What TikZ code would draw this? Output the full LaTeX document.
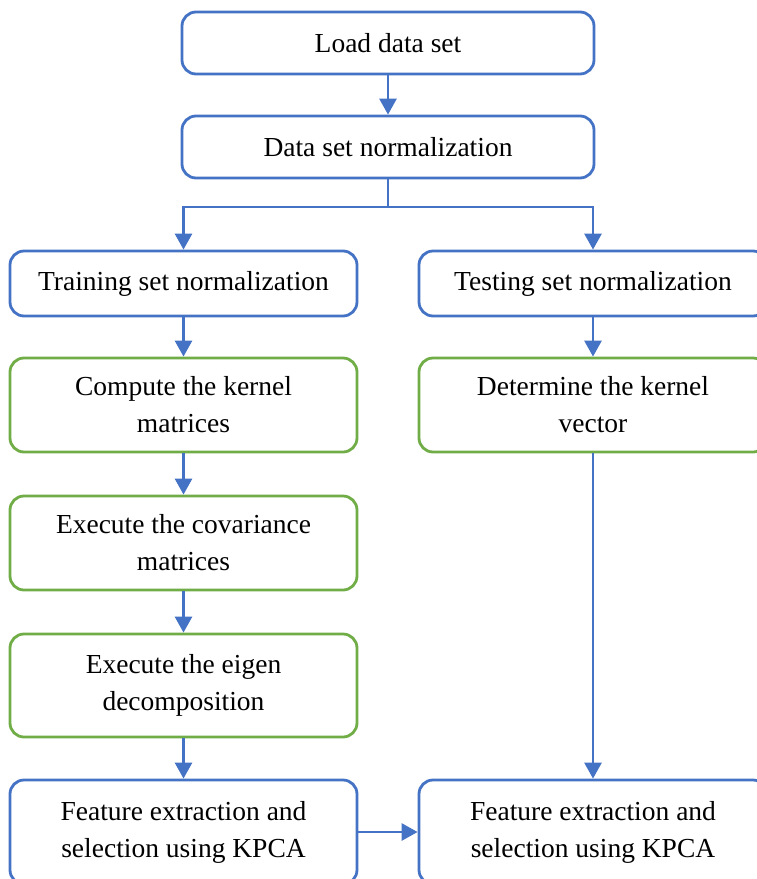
\documentclass[tikz,border=0pt]{standalone}
\usepackage{fontspec}
\setmainfont{Liberation Serif}
\usetikzlibrary{arrows.meta}
\definecolor{boxblue}{HTML}{4472C4}
\definecolor{boxgreen}{HTML}{70AD47}
\begin{document}
\begin{tikzpicture}[x=1pt,y=-1pt,
  base/.style={rectangle,rounded corners=14pt,line width=2.8pt,fill=white,
    align=center,inner sep=0pt,font=\fontsize{27.5}{37}\selectfont,
    execute at begin node={\vspace*{5pt}}},
  bluebox/.style={base,draw=boxblue},
  greenbox/.style={base,draw=boxgreen},
  arr/.style={draw=boxblue,line width=2.8pt,-{Triangle[length=16pt,width=17pt]}},
  ln/.style={draw=boxblue,line width=2.8pt}]
\useasboundingbox (0,0) rectangle (756,879);
\node[bluebox,minimum width=412pt,minimum height=62pt] (load) at (388,43) {Load data set};
\node[bluebox,minimum width=412pt,minimum height=62pt] (norm) at (388,147) {Data set normalization};
\node[bluebox,minimum width=347pt,minimum height=65pt] (train) at (183.5,283.5) {Training set normalization};
\node[bluebox,minimum width=348pt,minimum height=65pt] (test) at (593,283.5) {Testing set normalization};
\node[greenbox,minimum width=347pt,minimum height=94pt] (comp) at (183.5,405) {Compute the kernel\\matrices};
\node[greenbox,minimum width=348pt,minimum height=94pt] (det) at (593,405) {Determine the kernel\\vector};
\node[greenbox,minimum width=347pt,minimum height=94pt] (cov) at (183.5,543) {Execute the covariance\\matrices};
\node[greenbox,minimum width=347pt,minimum height=103pt] (eig) at (183.5,685.5) {Execute the eigen\\decomposition};
\node[bluebox,minimum width=347pt,minimum height=104pt] (featL) at (183.5,832) {Feature extraction and\\selection using KPCA};
\node[bluebox,minimum width=348pt,minimum height=104pt] (featR) at (593,832) {Feature extraction and\\selection using KPCA};
\coordinate (branch) at (388,207);
\draw[arr] (load) -- (norm);
\draw[ln] (norm.south) -- (branch);
\draw[arr] (branch) -| (train.north);
\draw[arr] (branch) -| (test.north);
\draw[arr] (train) -- (comp);
\draw[arr] (test) -- (det);
\draw[arr] (comp) -- (cov);
\draw[arr] (cov) -- (eig);
\draw[arr] (eig) -- (featL);
\draw[arr] (det) -- (featR);
\draw[arr] (featL) -- (featR);
\end{tikzpicture}
\end{document}
